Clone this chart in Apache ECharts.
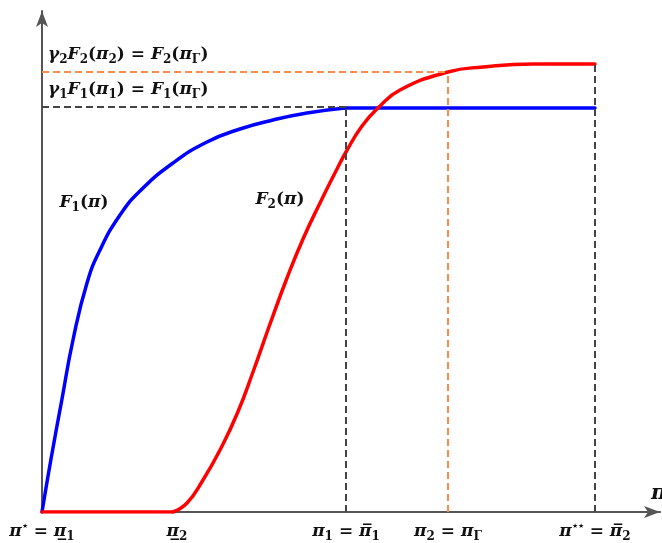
<!DOCTYPE html>
<html>
<head>
<meta charset="utf-8">
<script src="https://cdn.jsdelivr.net/npm/echarts@6/dist/echarts.min.js"></script>
<style>
  html, body { margin: 0; padding: 0; background: #fff; }
  #chart { width: 662px; height: 543px; }
</style>
</head>
<body>
<div id="chart"></div>
<script>
// values: x = position on the pi axis, y = height of F
const f1Points = [
    [0, 0], [9, 53], [20, 113], [31, 172], [45, 229], [58, 262], [78, 297],
    [98, 321], [131, 349], [165, 370], [198, 383], [231, 392], [265, 399],
    [303, 404], [553, 404]
];
const f2Points = [
    [0, 0], [131, 0], [145, 9], [161, 32], [178, 62], [195, 98], [211, 140],
    [228, 188], [245, 234], [261, 273], [278, 309], [295, 343], [304, 360],
    [320, 386], [336, 404], [358, 422], [406, 440], [441, 445], [491, 448],
    [553, 448]
];
const piTicks = [0, 135, 304, 406, 553];
const piTickLabels = [
    '{i|π}{p|⋆}{r| = }{i|π\u0332}{s|1}',
    '{i|π\u0332}{s|2}',
    '{i|π}{s|1}{r| = }{i|π\u0305}{s|1}',
    '{i|π}{s|2}{r| = }{i|π}{s|Γ}',
    '{i|π}{p|⋆⋆}{r| = }{i|π\u0305}{s|2}'
];
const pi1 = 304, pi2 = 406, piStarStar = 553;
const level1 = 405, level2 = 440, f2Top = 448;
const levelLabels = [
    '{i|γ}{s|1}{i|F}{s|1}{r|(}{i|π}{s|1}{r|) = }{i|F}{s|1}{r|(}{i|π}{s|Γ}{r|)}',
    '{i|γ}{s|2}{i|F}{s|2}{r|(}{i|π}{s|2}{r|) = }{i|F}{s|2}{r|(}{i|π}{s|Γ}{r|)}'
];
const curveLabels = ['{i|F}{s|1}{r|(}{i|π}{r|)}', '{i|F}{s|2}{r|(}{i|π}{r|)}'];
const curveLabelAt = [[42, 309], [238, 312]];

const FONT = 'DejaVu Serif';
const INK = '#111';
const mathRich = {
    i: { fontFamily: FONT, fontStyle: 'italic', fontWeight: 'bold', fontSize: 17, color: INK, lineHeight: 22 },
    r: { fontFamily: FONT, fontWeight: 'bold', fontSize: 17, color: INK, lineHeight: 22 },
    s: { fontFamily: FONT, fontWeight: 'bold', fontSize: 12, color: INK, lineHeight: 12, verticalAlign: 'bottom' },
    p: { fontFamily: FONT, fontWeight: 'bold', fontSize: 10, color: INK, lineHeight: 12, verticalAlign: 'top' }
};

const GREY = '#444';
const ORANGE = '#ff8a4c';
const BLUE = '#0000ff';
const RED = '#ff0000';

function dashed(color) {
    return { color: color, width: 2, type: [7, 4] };
}

// a curve piece: smooth for the bend, straight for the flat runs
function piece(name, data, color, smooth, z) {
    return {
        name: name,
        type: 'line',
        data: data,
        smooth: smooth,
        showSymbol: false,
        silent: true,
        lineStyle: { color: color, width: 3.5, cap: 'round', join: 'round' },
        z: z
    };
}

const chart = echarts.init(document.getElementById('chart'));

const option = {
    animation: false,
    backgroundColor: '#fff',
    grid: { left: 42, right: 2, top: 11, bottom: 31, outerBoundsMode: 'none' },
    xAxis: {
        type: 'value',
        min: 0,
        max: 618,
        name: 'π',
        nameLocation: 'end',
        nameGap: -9,
        nameTextStyle: {
            fontFamily: FONT, fontStyle: 'italic', fontWeight: 'bold', fontSize: 21, color: INK,
            verticalAlign: 'bottom', padding: [0, 0, 8, 0]
        },
        axisLine: {
            onZero: false,
            symbol: ['none', 'arrow'],
            symbolSize: [9, 16],
            lineStyle: { color: '#555', width: 2 }
        },
        axisTick: { show: false },
        splitLine: { show: false },
        axisLabel: {
            customValues: piTicks,
            margin: 9,
            formatter: function (v) {
                const k = piTicks.indexOf(v);
                return k < 0 ? '' : piTickLabels[k];
            },
            rich: mathRich
        }
    },
    yAxis: {
        type: 'value',
        min: 0,
        max: 501,
        axisLine: {
            show: true,
            onZero: false,
            symbol: ['none', 'arrow'],
            symbolSize: [9, 16],
            lineStyle: { color: '#555', width: 2 }
        },
        axisTick: { show: false },
        axisLabel: { show: false },
        splitLine: { show: false }
    },
    series: [
        {
            name: 'guides',
            type: 'line',
            data: [],
            silent: true,
            markLine: {
                silent: true,
                symbol: ['none', 'none'],
                animation: false,
                label: { show: false },
                data: [
                    [{ coord: [0, level2], lineStyle: dashed(ORANGE),
                       label: { show: true, position: 'insideStartTop', distance: [6, 6],
                                formatter: levelLabels[1], rich: mathRich } },
                     { coord: [pi2, level2] }],
                    [{ coord: [pi2, 0], lineStyle: dashed(ORANGE) }, { coord: [pi2, level2] }],
                    [{ coord: [0, level1], lineStyle: dashed(GREY),
                       label: { show: true, position: 'insideStartTop', distance: [6, 6],
                                formatter: levelLabels[0], rich: mathRich } },
                     { coord: [pi1, level1] }],
                    [{ coord: [pi1, 0], lineStyle: dashed(GREY) }, { coord: [pi1, level1] }],
                    [{ coord: [piStarStar, 0], lineStyle: dashed(GREY) }, { coord: [piStarStar, f2Top] }]
                ]
            },
            markPoint: {
                silent: true,
                symbol: 'circle',
                symbolSize: 0,
                animation: false,
                data: curveLabelAt.map(function (c, k) {
                    return {
                        coord: c,
                        label: { show: true, position: 'inside', formatter: curveLabels[k], rich: mathRich }
                    };
                })
            }
        },
        piece('F1', f1Points.slice(0, -1), BLUE, 0.5, 3),
        piece('F1 flat', f1Points.slice(-2), BLUE, false, 3),
        piece('F2 flat', f2Points.slice(0, 2), RED, false, 4),
        piece('F2', f2Points.slice(1), RED, 0.5, 4)
    ]
};

chart.setOption(option);
</script>
</body>
</html>
